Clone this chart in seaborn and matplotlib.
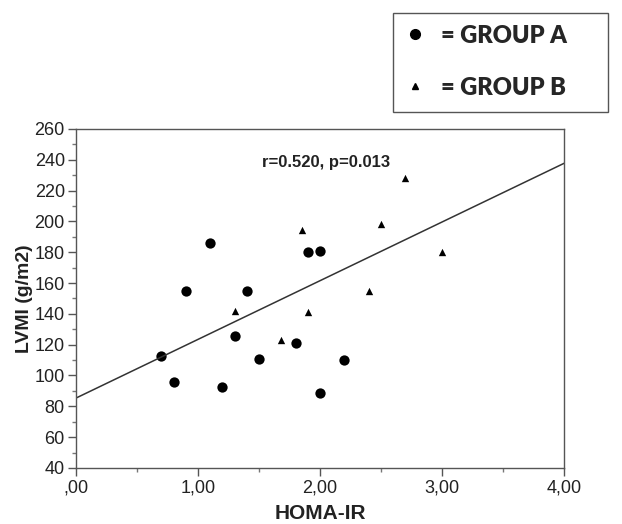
import numpy as np
import pandas as pd
import matplotlib
matplotlib.use("Agg")
import matplotlib.pyplot as plt
from matplotlib.ticker import MultipleLocator, FuncFormatter
from matplotlib.lines import Line2D
from matplotlib.patches import Rectangle
import seaborn as sns

# values
homa_a = [0.70, 0.80, 0.90, 1.10, 1.20, 1.30, 1.40, 1.50, 1.80, 1.90, 2.00, 2.00, 2.20]
lvmi_a = [112.6, 95.5, 154.7, 185.9, 92.7, 125.6, 154.7, 110.7, 120.9, 179.8, 180.9, 88.6, 109.8]
homa_b = [1.30, 1.68, 1.85, 1.90, 2.40, 2.50, 2.70, 3.00]
lvmi_b = [141.9, 123.0, 194.1, 141.0, 155.1, 198.2, 228.1, 180.0]

# fit line as drawn in the figure
fit_intercept = 85.3
fit_slope = 38.1
stats_text = "r=0.520, p=0.013"
legend_labels = ["= GROUP A", "= GROUP B"]

df = pd.DataFrame({
    "HOMA-IR": homa_a + homa_b,
    "LVMI": lvmi_a + lvmi_b,
    "group": ["A"] * len(homa_a) + ["B"] * len(homa_b),
})

sns.set_style("white")
plt.rcParams["font.family"] = ["Liberation Sans", "DejaVu Sans"]

W, H = 622, 524
fig = plt.figure(figsize=(W / 100, H / 100), dpi=100)
ax = fig.add_axes([0.122, 0.107, 0.785, 0.647])

sns.scatterplot(data=df[df.group == "A"], x="HOMA-IR", y="LVMI", marker="o",
                color="black", s=55, edgecolor="black", linewidth=0, ax=ax)
sns.scatterplot(data=df[df.group == "B"], x="HOMA-IR", y="LVMI", marker="^",
                color="black", s=28, edgecolor="black", linewidth=0, ax=ax)

xs = np.array([0, 4])
ax.plot(xs, fit_intercept + fit_slope * xs, color="#333333", lw=1.1)

ax.text(2.05, 238, stats_text, ha="center", va="center", fontsize=12,
        fontweight="bold", color="#222222")

ax.set_xlim(0, 4)
ax.set_ylim(40, 260)
ax.xaxis.set_major_locator(MultipleLocator(1))
ax.xaxis.set_minor_locator(MultipleLocator(0.5))
ax.yaxis.set_major_locator(MultipleLocator(20))
ax.yaxis.set_minor_locator(MultipleLocator(10))
ax.xaxis.set_major_formatter(FuncFormatter(
    lambda v, p: ("%.2f" % v).replace(".", ",").lstrip("0") if v == 0 else ("%.2f" % v).replace(".", ",")))

ax.tick_params(which="major", direction="out", length=6, width=1, color="#555555",
               labelsize=13, labelcolor="#222222", bottom=True, left=True, pad=2)
ax.tick_params(which="minor", direction="out", length=3, width=1, color="#777777",
               bottom=True, left=True)
for sp in ax.spines.values():
    sp.set_color("#555555")
    sp.set_linewidth(1)

ax.set_xlabel("HOMA-IR", fontsize=15, fontweight="bold", color="#222222", labelpad=6)
ax.set_ylabel("LVMI (g/m2)", fontsize=14, fontweight="bold", color="#222222", labelpad=1)

# legend box (frame drawn separately so it can be wider than its content)
fig.patches.append(Rectangle((393 / W, 1 - 112 / H), 215 / W, 99 / H,
                             transform=fig.transFigure, fill=False,
                             edgecolor="#555555", linewidth=1))
handles = [
    Line2D([], [], marker="o", ls="", color="black", markersize=7),
    Line2D([], [], marker="^", ls="", color="black", markersize=5),
]
leg = fig.legend(handles, legend_labels, loc="upper left",
                 bbox_to_anchor=(393 / W, 1 - 14 / H), frameon=False,
                 prop={"family": "Lato", "weight": "heavy", "size": 17},
                 handlelength=1.0, handletextpad=0.6, labelspacing=1.27,
                 borderpad=0.45, borderaxespad=0)

fig.savefig("out.png", dpi=100)
